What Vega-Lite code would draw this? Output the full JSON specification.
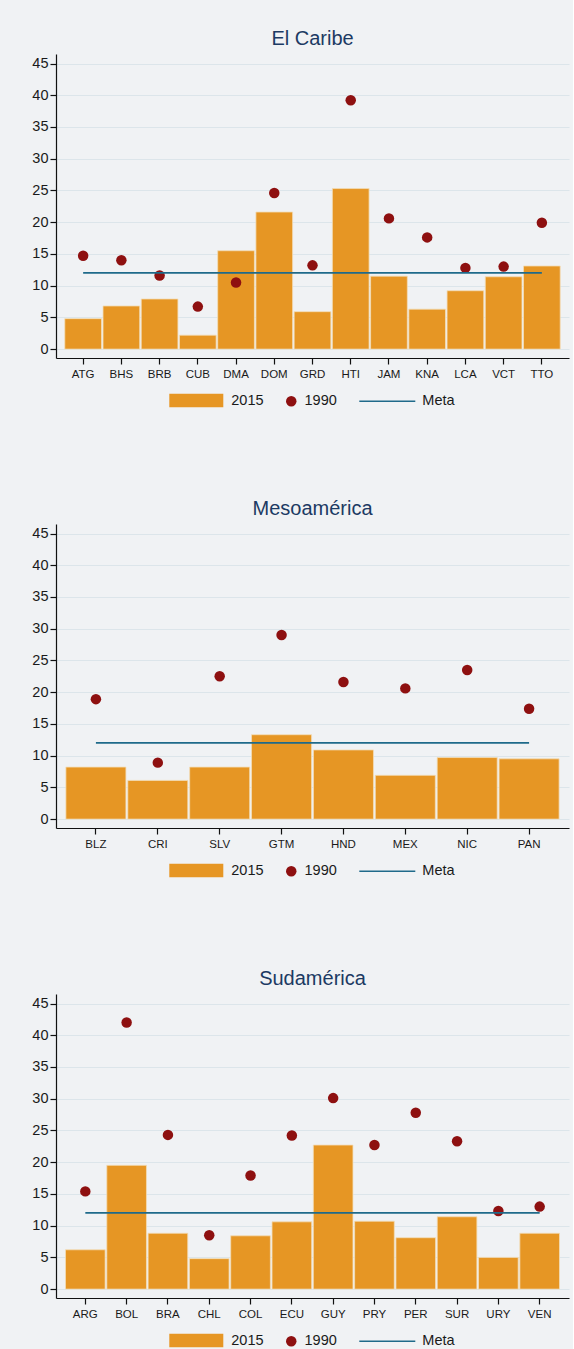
{
  "$schema": "https://vega.github.io/schema/vega-lite/v6.json",
  "background": "#F0F2F4",
  "padding": {"top": 29, "left": 31, "right": 4, "bottom": 0},
  "data": {"values": [
    {"region": "Caribe", "pais": "ATG", "v2015": 4.8, "v1990": 14.7, "meta": 12},
    {"region": "Caribe", "pais": "BHS", "v2015": 6.8, "v1990": 14.0, "meta": 12},
    {"region": "Caribe", "pais": "BRB", "v2015": 7.9, "v1990": 11.6, "meta": 12},
    {"region": "Caribe", "pais": "CUB", "v2015": 2.2, "v1990": 6.7, "meta": 12},
    {"region": "Caribe", "pais": "DMA", "v2015": 15.5, "v1990": 10.5, "meta": 12},
    {"region": "Caribe", "pais": "DOM", "v2015": 21.6, "v1990": 24.6, "meta": 12},
    {"region": "Caribe", "pais": "GRD", "v2015": 5.9, "v1990": 13.2, "meta": 12},
    {"region": "Caribe", "pais": "HTI", "v2015": 25.3, "v1990": 39.2, "meta": 12},
    {"region": "Caribe", "pais": "JAM", "v2015": 11.5, "v1990": 20.6, "meta": 12},
    {"region": "Caribe", "pais": "KNA", "v2015": 6.3, "v1990": 17.6, "meta": 12},
    {"region": "Caribe", "pais": "LCA", "v2015": 9.2, "v1990": 12.8, "meta": 12},
    {"region": "Caribe", "pais": "VCT", "v2015": 11.4, "v1990": 13.0, "meta": 12},
    {"region": "Caribe", "pais": "TTO", "v2015": 13.1, "v1990": 19.9, "meta": 12},
    {"region": "Meso", "pais": "BLZ", "v2015": 8.2, "v1990": 18.9, "meta": 12},
    {"region": "Meso", "pais": "CRI", "v2015": 6.1, "v1990": 8.9, "meta": 12},
    {"region": "Meso", "pais": "SLV", "v2015": 8.2, "v1990": 22.5, "meta": 12},
    {"region": "Meso", "pais": "GTM", "v2015": 13.3, "v1990": 29.0, "meta": 12},
    {"region": "Meso", "pais": "HND", "v2015": 10.9, "v1990": 21.6, "meta": 12},
    {"region": "Meso", "pais": "MEX", "v2015": 6.9, "v1990": 20.6, "meta": 12},
    {"region": "Meso", "pais": "NIC", "v2015": 9.7, "v1990": 23.5, "meta": 12},
    {"region": "Meso", "pais": "PAN", "v2015": 9.5, "v1990": 17.4, "meta": 12},
    {"region": "Sud", "pais": "ARG", "v2015": 6.2, "v1990": 15.4, "meta": 12},
    {"region": "Sud", "pais": "BOL", "v2015": 19.5, "v1990": 42.0, "meta": 12},
    {"region": "Sud", "pais": "BRA", "v2015": 8.8, "v1990": 24.3, "meta": 12},
    {"region": "Sud", "pais": "CHL", "v2015": 4.8, "v1990": 8.5, "meta": 12},
    {"region": "Sud", "pais": "COL", "v2015": 8.4, "v1990": 17.9, "meta": 12},
    {"region": "Sud", "pais": "ECU", "v2015": 10.6, "v1990": 24.2, "meta": 12},
    {"region": "Sud", "pais": "GUY", "v2015": 22.7, "v1990": 30.1, "meta": 12},
    {"region": "Sud", "pais": "PRY", "v2015": 10.7, "v1990": 22.7, "meta": 12},
    {"region": "Sud", "pais": "PER", "v2015": 8.1, "v1990": 27.8, "meta": 12},
    {"region": "Sud", "pais": "SUR", "v2015": 11.4, "v1990": 23.3, "meta": 12},
    {"region": "Sud", "pais": "URY", "v2015": 5.0, "v1990": 12.3, "meta": 12},
    {"region": "Sud", "pais": "VEN", "v2015": 8.8, "v1990": 13.0, "meta": 12}
  ]},
  "spacing": 90,
  "resolve": {
    "scale": {"x": "independent", "y": "independent", "fill": "independent", "color": "independent", "stroke": "independent"},
    "legend": {"fill": "independent", "color": "independent", "stroke": "independent"}
  },
  "vconcat": [
    {
      "title": {"text": "El Caribe"},
      "width": 513, "height": 304,
      "transform": [{"filter": "datum.region === 'Caribe'"}],
      "encoding": {"x": {"field": "pais", "type": "nominal", "sort": null, "scale": {"paddingInner": 0.04, "paddingOuter": 0.23}}},
      "layer": [
        {"mark": {"type": "bar", "stroke": "#F3DDB8", "strokeWidth": 0.8},
         "encoding": {
           "y": {"field": "v2015", "type": "quantitative", "scale": {"domain": [-1.4, 46.5], "nice": false}, "axis": {"values": [0,5,10,15,20,25,30,35,40,45]}},
           "fill": {"datum": "2015", "type": "nominal", "scale": {"domain": ["2015"], "range": ["#E69624"]},
             "legend": {"orient": "none", "legendX": 113.3, "legendY": 319.5, "symbolType": "M-1,-0.25H1V0.25H-1Z", "symbolSize": 2916, "symbolStrokeWidth": 0}}}},
        {"mark": {"type": "point", "filled": true, "size": 110, "opacity": 1},
         "encoding": {
           "y": {"field": "v1990", "type": "quantitative", "axis": {"values": [0,5,10,15,20,25,30,35,40,45]}},
           "color": {"datum": "1990", "type": "nominal", "scale": {"domain": ["1990"], "range": ["#8E1010"]},
             "legend": {"orient": "none", "legendX": 228, "legendY": 340, "symbolType": "circle", "symbolSize": 110, "symbolStrokeWidth": 0, "labelOffset": 6}}}},
        {"mark": {"type": "line", "strokeWidth": 1.8},
         "encoding": {
           "y": {"field": "meta", "type": "quantitative", "axis": {"values": [0,5,10,15,20,25,30,35,40,45]}},
           "stroke": {"datum": "Meta", "type": "nominal", "scale": {"domain": ["Meta"], "range": ["#1F6A8A"]},
             "legend": {"orient": "none", "legendX": 302.3, "legendY": 318.3, "symbolType": "stroke", "symbolSize": 3136, "symbolStrokeWidth": 1.6, "labelOffset": 6}}}}
      ]
    },
    {
      "title": {"text": "Mesoamérica"},
      "width": 513, "height": 304,
      "transform": [{"filter": "datum.region === 'Meso'"}],
      "encoding": {"x": {"field": "pais", "type": "nominal", "sort": null, "scale": {"paddingInner": 0.03, "paddingOuter": 0.16}}},
      "layer": [
        {"mark": {"type": "bar", "stroke": "#F3DDB8", "strokeWidth": 0.8},
         "encoding": {
           "y": {"field": "v2015", "type": "quantitative", "scale": {"domain": [-1.4, 46.5], "nice": false}, "axis": {"values": [0,5,10,15,20,25,30,35,40,45]}},
           "fill": {"datum": "2015", "type": "nominal", "scale": {"domain": ["2015"], "range": ["#E69624"]},
             "legend": {"orient": "none", "legendX": 113.3, "legendY": 319.5, "symbolType": "M-1,-0.25H1V0.25H-1Z", "symbolSize": 2916, "symbolStrokeWidth": 0}}}},
        {"mark": {"type": "point", "filled": true, "size": 110, "opacity": 1},
         "encoding": {
           "y": {"field": "v1990", "type": "quantitative", "axis": {"values": [0,5,10,15,20,25,30,35,40,45]}},
           "color": {"datum": "1990", "type": "nominal", "scale": {"domain": ["1990"], "range": ["#8E1010"]},
             "legend": {"orient": "none", "legendX": 228, "legendY": 340, "symbolType": "circle", "symbolSize": 110, "symbolStrokeWidth": 0, "labelOffset": 6}}}},
        {"mark": {"type": "line", "strokeWidth": 1.8},
         "encoding": {
           "y": {"field": "meta", "type": "quantitative", "axis": {"values": [0,5,10,15,20,25,30,35,40,45]}},
           "stroke": {"datum": "Meta", "type": "nominal", "scale": {"domain": ["Meta"], "range": ["#1F6A8A"]},
             "legend": {"orient": "none", "legendX": 302.3, "legendY": 318.3, "symbolType": "stroke", "symbolSize": 3136, "symbolStrokeWidth": 1.6, "labelOffset": 6}}}}
      ]
    },
    {
      "title": {"text": "Sudamérica"},
      "width": 513, "height": 304,
      "transform": [{"filter": "datum.region === 'Sud'"}],
      "encoding": {"x": {"field": "pais", "type": "nominal", "sort": null, "scale": {"paddingInner": 0.04, "paddingOuter": 0.23}}},
      "layer": [
        {"mark": {"type": "bar", "stroke": "#F3DDB8", "strokeWidth": 0.8},
         "encoding": {
           "y": {"field": "v2015", "type": "quantitative", "scale": {"domain": [-1.4, 46.5], "nice": false}, "axis": {"values": [0,5,10,15,20,25,30,35,40,45]}},
           "fill": {"datum": "2015", "type": "nominal", "scale": {"domain": ["2015"], "range": ["#E69624"]},
             "legend": {"orient": "none", "legendX": 113.3, "legendY": 319.5, "symbolType": "M-1,-0.25H1V0.25H-1Z", "symbolSize": 2916, "symbolStrokeWidth": 0}}}},
        {"mark": {"type": "point", "filled": true, "size": 110, "opacity": 1},
         "encoding": {
           "y": {"field": "v1990", "type": "quantitative", "axis": {"values": [0,5,10,15,20,25,30,35,40,45]}},
           "color": {"datum": "1990", "type": "nominal", "scale": {"domain": ["1990"], "range": ["#8E1010"]},
             "legend": {"orient": "none", "legendX": 228, "legendY": 340, "symbolType": "circle", "symbolSize": 110, "symbolStrokeWidth": 0, "labelOffset": 6}}}},
        {"mark": {"type": "line", "strokeWidth": 1.8},
         "encoding": {
           "y": {"field": "meta", "type": "quantitative", "axis": {"values": [0,5,10,15,20,25,30,35,40,45]}},
           "stroke": {"datum": "Meta", "type": "nominal", "scale": {"domain": ["Meta"], "range": ["#1F6A8A"]},
             "legend": {"orient": "none", "legendX": 302.3, "legendY": 318.3, "symbolType": "stroke", "symbolSize": 3136, "symbolStrokeWidth": 1.6, "labelOffset": 6}}}}
      ]
    }
  ],
  "config": {
    "font": "Liberation Sans",
    "view": {"stroke": null},
    "title": {"fontSize": 20, "fontWeight": "normal", "color": "#1C3A63", "anchor": "middle", "baseline": "alphabetic", "offset": 5, "font": "Liberation Sans"},
    "axis": {"title": null, "domainColor": "#111111", "tickColor": "#111111", "labelColor": "#1A1A1A", "labelFont": "Liberation Sans", "domainWidth": 1.2, "tickWidth": 1.2, "tickSize": 6},
    "axisY": {"labelFontSize": 14.5, "labelPadding": 2, "grid": true, "gridColor": "#DCE5EA", "gridWidth": 1, "labelOverlap": false},
    "axisX": {"labelFontSize": 11.5, "labelAngle": 0, "labelPadding": 4, "grid": false},
    "legend": {"title": null, "labelFontSize": 14.5, "labelFont": "Liberation Sans", "labelColor": "#1A1A1A", "labelOffset": 8, "padding": 0, "direction": "horizontal"}
  }
}
